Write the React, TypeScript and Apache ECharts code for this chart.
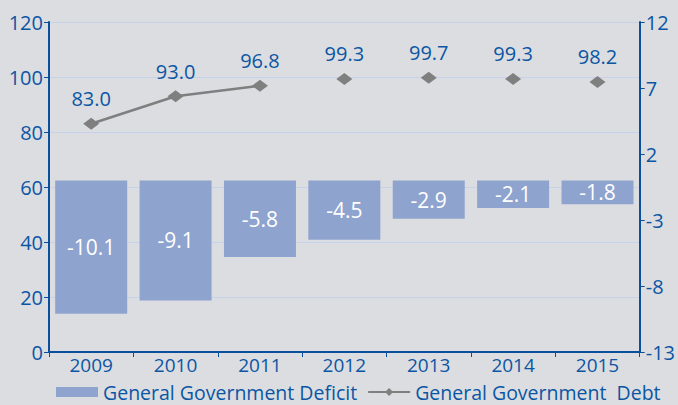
import React, { useEffect, useRef } from "react";
import * as echarts from "echarts";

const years = ["2009", "2010", "2011", "2012", "2013", "2014", "2015"];
const deficit = [-10.1, -9.1, -5.8, -4.5, -2.9, -2.1, -1.8];
const debt = [83.0, 93.0, 96.8, 99.3, 99.7, 99.3, 98.2];
const debtConnected = [true, true, true, false, false, false, false];
const deficitName = "General Government Deficit";
const debtName = "General Government  Debt";

const BLUE = "#0b56a4";
const AXIS = "#0a4f9c";
const FONT = "Open Sans";

export default function App() {
  const ref = useRef<HTMLDivElement>(null);
  useEffect(() => {
    const chart = echarts.init(ref.current!, undefined, { renderer: "svg" });
    const lineData = debt.map((v, i) => (debtConnected[i] ? v : "-"));
    const dotData = debt.map((v, i) => (debtConnected[i] ? "-" : v));
    const debtLabel = {
      show: true,
      position: "top",
      distance: 9,
      color: BLUE,
      fontFamily: FONT,
      fontSize: 20,
      formatter: (p: any) => Number(p.value).toFixed(1),
    };
    chart.setOption({
      animation: false,
      backgroundColor: "#dcdde0",
      textStyle: { fontFamily: FONT },
      grid: { left: 49, right: 37, top: 22, bottom: 53 },
      legend: {
        bottom: 3,
        left: 56,
        width: 640,
        itemGap: 10,
        itemWidth: 42,
        itemHeight: 10,
        padding: 0,
        textStyle: { color: BLUE, fontSize: 19.5, fontFamily: FONT, lineHeight: 18 },
        data: [
          { name: deficitName, icon: "rect" },
          { name: debtName },
        ],
      },
      xAxis: {
        type: "category",
        data: years,
        boundaryGap: true,
        axisLine: { lineStyle: { color: AXIS, width: 2 } },
        axisTick: { show: true, length: 5, lineStyle: { color: AXIS } },
        axisLabel: { color: BLUE, fontSize: 19, fontFamily: FONT, margin: 4, lineHeight: 18 },
      },
      yAxis: [
        {
          type: "value",
          min: 0,
          max: 120,
          interval: 20,
          axisLine: { show: true, lineStyle: { color: AXIS, width: 2 } },
          axisTick: { show: true, length: 5, lineStyle: { color: AXIS } },
          axisLabel: { color: BLUE, fontSize: 20, fontFamily: FONT, margin: 6 },
          splitLine: { show: true, lineStyle: { color: "#c6d2ea", width: 1 } },
        },
        {
          type: "value",
          min: -13,
          max: 12,
          interval: 5,
          position: "right",
          axisLine: { show: true, lineStyle: { color: AXIS, width: 2 } },
          axisTick: { show: true, length: 5, lineStyle: { color: AXIS } },
          axisLabel: { color: BLUE, fontSize: 20, fontFamily: FONT, margin: 6 },
          splitLine: { show: false },
        },
      ],
      series: [
        {
          name: deficitName,
          type: "bar",
          yAxisIndex: 1,
          data: deficit,
          barWidth: 72,
          itemStyle: { color: "#8fa3cf" },
          label: {
            show: true,
            position: "inside",
            color: "#ffffff",
            fontSize: 21,
            fontFamily: FONT,
            formatter: (p: any) => Number(p.value).toFixed(1),
          },
        },
        {
          name: debtName,
          type: "line",
          yAxisIndex: 0,
          data: lineData,
          symbol: "diamond",
          symbolSize: [16, 12],
          itemStyle: { color: "#7f7f80" },
          lineStyle: { color: "#7f7f80", width: 2.5 },
          label: debtLabel,
        },
        {
          name: debtName,
          type: "line",
          yAxisIndex: 0,
          data: dotData,
          symbol: "diamond",
          symbolSize: [16, 12],
          itemStyle: { color: "#7f7f80" },
          lineStyle: { width: 0 },
          label: debtLabel,
        },
      ],
    });
    return () => chart.dispose();
  }, []);
  return <div ref={ref} style={{ width: 678, height: 405, position: "absolute", left: 0, top: 0 }} />;
}
